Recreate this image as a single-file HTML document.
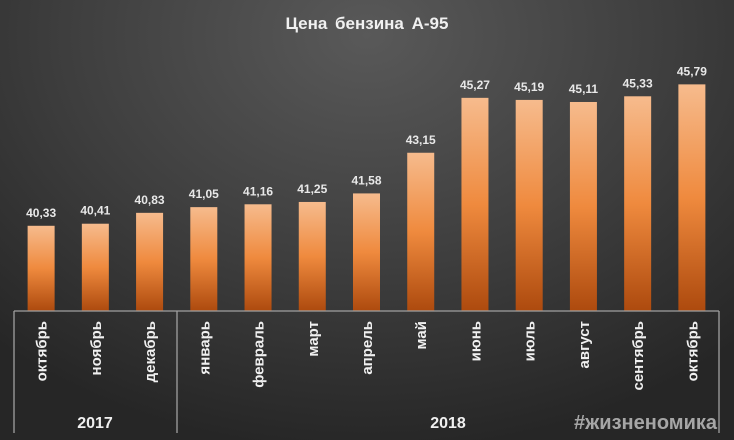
<!DOCTYPE html>
<html><head><meta charset="utf-8">
<style>
html,body{margin:0;padding:0}
body{width:734px;height:440px;overflow:hidden;background:radial-gradient(ellipse 75% 95% at 50% 8%,#595959 0%,#3e3e3e 55%,#262626 100%);font-family:"Liberation Sans","DejaVu Sans",sans-serif}
svg{position:absolute;left:0;top:0}
</style></head><body>
<svg id="chart" width="734" height="440">
<defs>
<linearGradient id="bg" x1="0" y1="0" x2="0" y2="1">
<stop offset="0" stop-color="#f6bb8d"/>
<stop offset="0.5" stop-color="#ef8a3e"/>
<stop offset="1" stop-color="#ad4a0e"/>
</linearGradient>
</defs>
<text x="367" y="29" text-anchor="middle" fill="#f0f0f0" font-size="17" font-weight="bold" style="word-spacing:3px">Цена бензина А-95</text>
<g id="bars"></g>
<g id="axis" stroke="#a0a0a0" stroke-width="1.3" fill="none">
<line x1="14" y1="311" x2="719" y2="311"/>
<line x1="14" y1="311" x2="14" y2="433"/>
<line x1="177" y1="311" x2="177" y2="433"/>
<line x1="719" y1="311" x2="719" y2="433"/>
</g>
<text x="95" y="428" text-anchor="middle" fill="#f0f0f0" font-size="16" font-weight="bold">2017</text>
<text x="448" y="428" text-anchor="middle" fill="#f0f0f0" font-size="16" font-weight="bold">2018</text>
<text x="717" y="429" text-anchor="end" fill="#a6a6a6" font-size="20" font-weight="bold">#жизненомика</text>
</svg>
<script>
const categories=["октябрь","ноябрь","декабрь","январь","февраль","март","апрель","май","июнь","июль","август","сентябрь","октябрь"];
const values=[40.33,40.41,40.83,41.05,41.16,41.25,41.58,43.15,45.27,45.19,45.11,45.33,45.79];
const valueLabels=["40,33","40,41","40,83","41,05","41,16","41,25","41,58","43,15","45,27","45,19","45,11","45,33","45,79"];
const yMin=37.04, x0=14, x1=719, base=311, pxPerUnit=25.9;
const NS="http://www.w3.org/2000/svg";
const g=document.getElementById('bars');
const bw=(x1-x0)/categories.length;
function xCenter(i){return x0+bw*(i+0.5);}
function yPos(v){return base-(v-yMin)*pxPerUnit;}
values.forEach((v,i)=>{
 const cx=xCenter(i), y=yPos(v);
 const r=document.createElementNS(NS,'rect');
 r.setAttribute('x',cx-13.5);r.setAttribute('y',y);r.setAttribute('width',27);r.setAttribute('height',base-y);r.setAttribute('fill','url(#bg)');
 
 
 g.appendChild(r);
 const t=document.createElementNS(NS,'text');
 t.setAttribute('x',cx);t.setAttribute('y',y-9);t.setAttribute('text-anchor','middle');t.setAttribute('fill','#e8e8e8');t.setAttribute('font-size','12');t.setAttribute('font-weight','bold');
 t.textContent=valueLabels[i];
 
 
 g.appendChild(t);
 const c=document.createElementNS(NS,'text');
 c.setAttribute('transform','translate('+(cx+5.5)+',321) rotate(-90)');
 c.setAttribute('text-anchor','end');c.setAttribute('fill','#f0f0f0');c.setAttribute('font-size','15');c.setAttribute('font-weight','bold');
 c.textContent=categories[i];
 
 
 g.appendChild(c);
});
</script>
</body></html>
